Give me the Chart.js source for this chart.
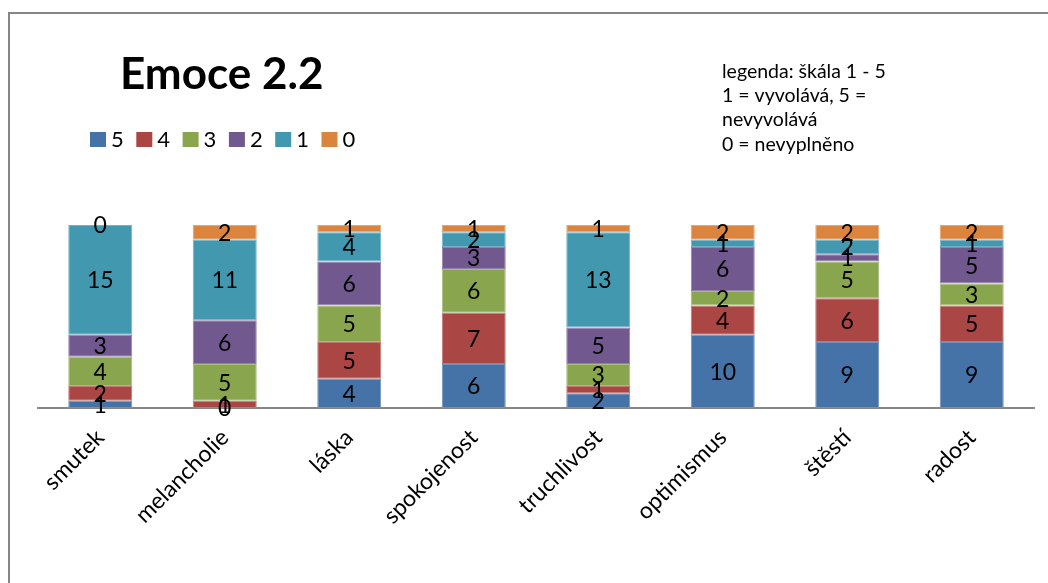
<!DOCTYPE html>
<html>
<head>
<meta charset="utf-8">
<title>Emoce 2.2</title>
<script src="https://cdn.jsdelivr.net/npm/chart.js@4/dist/chart.umd.min.js"></script>
<style>
  html, body { margin: 0; padding: 0; background: #fff; }
  #wrap { width: 1048px; height: 583px; }
</style>
</head>
<body>
<div id="wrap"><canvas id="chartCanvas" width="1048" height="583"></canvas></div>
<script>
// categories and answer counts per scale value
const categories = ['smutek', 'melancholie', 'láska', 'spokojenost', 'truchlivost', 'optimismus', 'štěstí', 'radost'];
const val5 = [1, 0, 4, 6, 2, 10, 9, 9];
const val4 = [2, 1, 5, 7, 1, 4, 6, 5];
const val3 = [4, 5, 5, 6, 3, 2, 5, 3];
const val2 = [3, 6, 6, 3, 5, 6, 1, 5];
const val1 = [15, 11, 4, 2, 13, 1, 2, 1];
const val0 = [0, 2, 1, 1, 1, 2, 2, 2];

const seriesNames = ['5', '4', '3', '2', '1', '0'];
const seriesValues = [val5, val4, val3, val2, val1, val0];
const colors = ['#4572A7', '#AA4643', '#89A54E', '#71588F', '#4198AF', '#DB843D'];
const edges = ['#6f92bd', '#c07876', '#a6bd7e', '#9580ad', '#74b3c6', '#e6a573'];

const titleText = 'Emoce 2.2';
const noteLines = ['legenda: škála 1 - 5', '1 = vyvolává, 5 =', 'nevyvolává', '0 = nevyplněno'];

const FONT = 'Lato, "Open Sans", sans-serif';

let datasets = [];
for (let i = 0; i < seriesNames.length; i++) {
  datasets.push({
    label: seriesNames[i],
    data: seriesValues[i],
    backgroundColor: colors[i],
    borderColor: edges[i],
    borderWidth: 1,
    borderSkipped: false,
    categoryPercentage: 1,
    barPercentage: 0.514
  });
}

// frame, title, legend and the note block
const decor = {
  id: 'decor',
  beforeDraw(chart) {
    const ctx = chart.ctx;
    ctx.save();
    ctx.fillStyle = '#fff';
    ctx.fillRect(0, 0, chart.width, chart.height);
    ctx.strokeStyle = '#868686';
    ctx.lineWidth = 2;
    ctx.beginPath();
    ctx.moveTo(9, chart.height);
    ctx.lineTo(9, 13);
    ctx.lineTo(chart.width, 13);
    ctx.stroke();
    ctx.restore();
  },
  afterDraw(chart) {
    const ctx = chart.ctx;
    ctx.save();
    ctx.fillStyle = '#000';
    ctx.textBaseline = 'alphabetic';
    ctx.font = 'bold 44px ' + FONT;
    ctx.fillText(titleText, 120, 89);

    // legend row
    ctx.font = '22px ' + FONT;
    ctx.textBaseline = 'middle';
    let x = 90;
    chart.data.datasets.forEach(ds => {
      ctx.fillStyle = ds.backgroundColor;
      ctx.fillRect(x, 132, 16, 15);
      ctx.fillStyle = '#000';
      ctx.fillText(ds.label, x + 21, 140);
      x += 46.3;
    });

    ctx.font = '19.5px ' + FONT;
    ctx.textBaseline = 'alphabetic';
    noteLines.forEach((t, i) => {
      ctx.fillText(t, 722, 78 + i * 24.2);
    });
    ctx.restore();
  }
};

// value labels centred in every segment
const segLabels = {
  id: 'segLabels',
  afterDatasetsDraw(chart) {
    const ctx = chart.ctx;
    ctx.save();
    ctx.font = '23px ' + FONT;
    ctx.fillStyle = '#000';
    ctx.textAlign = 'center';
    ctx.textBaseline = 'middle';
    chart.data.datasets.forEach((ds, i) => {
      const meta = chart.getDatasetMeta(i);
      meta.data.forEach((bar, j) => {
        const yMid = (bar.y + bar.base) / 2;
        ctx.fillText(String(ds.data[j]), bar.x, yMid + 1);
      });
    });
    ctx.restore();
  }
};

const chart = new Chart(document.getElementById('chartCanvas'), {
  type: 'bar',
  data: { labels: categories, datasets: datasets },
  options: {
    responsive: false,
    animation: false,
    layout: { padding: { left: 38, right: 14, top: 225, bottom: 0 } },
    plugins: {
      legend: { display: false },
      title: { display: false },
      tooltip: { enabled: false }
    },
    scales: {
      x: {
        stacked: true,
        grid: { display: false },
        border: { display: true, color: '#868686', width: 2 },
        ticks: {
          color: '#000',
          font: { family: FONT, size: 23 },
          minRotation: 45,
          maxRotation: 45,
          padding: 8,
          autoSkip: false
        },
        afterFit(scale) {
          scale.height = 175;
          scale.paddingLeft = 0;
          scale.paddingRight = 0;
        }
      },
      y: {
        stacked: true,
        display: false,
        min: 0,
        max: 25
      }
    }
  },
  plugins: [decor, segLabels]
});
</script>
</body>
</html>
